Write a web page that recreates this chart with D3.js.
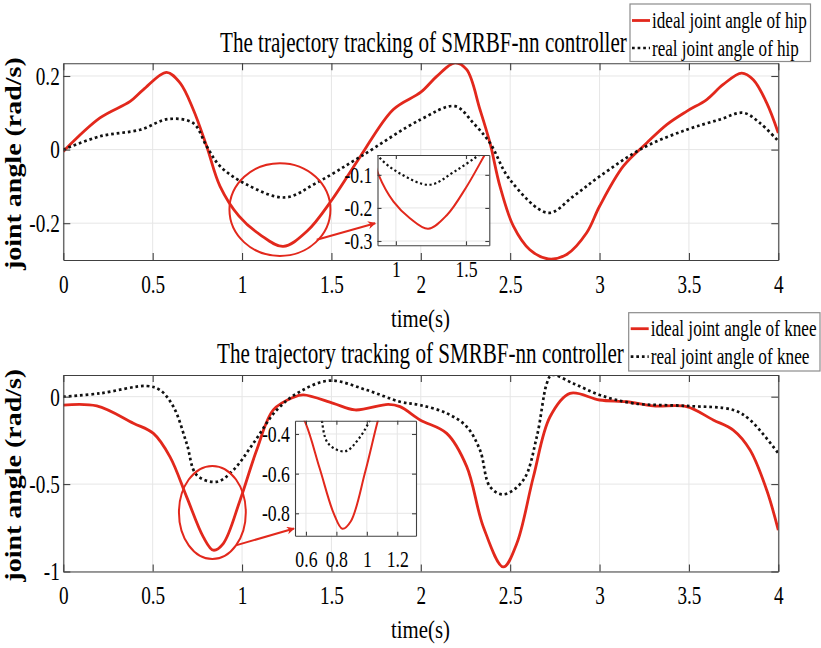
<!DOCTYPE html>
<html>
<head>
<meta charset="utf-8">
<script src="https://cdn.jsdelivr.net/npm/d3@7"></script>
<style>
  body { margin: 0; background: #fff; }
  svg { display: block; }
</style>
</head>
<body>
<script>
// ---- data ----
var xTicks = [0, 0.5, 1, 1.5, 2, 2.5, 3, 3.5, 4];

var hipTicks = [-0.2, 0, 0.2];
var hipIdealT = [0, 0.205, 0.374, 0.448, 0.578, 0.653, 0.727, 0.802, 0.877, 0.983, 1.1, 1.23, 1.363, 1.505, 1.66, 1.846, 2.0, 2.089, 2.191, 2.257, 2.331, 2.387, 2.443, 2.518, 2.61, 2.713, 2.816, 2.928, 3.0, 3.133, 3.264, 3.376, 3.487, 3.6, 3.692, 3.795, 3.86, 3.935, 4.0];
var hipIdealV = [-0.005, 0.086, 0.131, 0.163, 0.21, 0.181, 0.109, 0.009, -0.1, -0.181, -0.231, -0.263, -0.222, -0.135, -0.02, 0.109, 0.156, 0.199, 0.236, 0.217, 0.109, 0.018, -0.1, -0.208, -0.272, -0.297, -0.285, -0.226, -0.154, -0.045, 0.018, 0.068, 0.104, 0.136, 0.177, 0.208, 0.19, 0.127, 0.045];
var hipRealT = [0, 0.205, 0.43, 0.587, 0.727, 0.802, 0.877, 1.026, 1.24, 1.418, 1.66, 2.0, 2.191, 2.294, 2.387, 2.499, 2.713, 2.853, 3.0, 3.245, 3.487, 3.674, 3.804, 3.898, 4.0];
var hipRealV = [0, 0.036, 0.054, 0.083, 0.072, 0.009, -0.045, -0.095, -0.13, -0.09, -0.02, 0.082, 0.118, 0.072, 0.018, -0.082, -0.172, -0.127, -0.073, 0.005, 0.054, 0.082, 0.1, 0.072, 0.023];
var hipInsetXTicks = [1, 1.5];
var hipInsetYTicks = [-0.3, -0.2, -0.1];

var kneeTicks = [-1, -0.5, 0];
var kneeIdealT = [0, 0.187, 0.392, 0.504, 0.597, 0.69, 0.783, 0.839, 0.895, 0.989, 1.082, 1.175, 1.287, 1.343, 1.511, 1.632, 1.818, 1.884, 1.996, 2.145, 2.257, 2.35, 2.462, 2.537, 2.63, 2.723, 2.835, 3.0, 3.152, 3.301, 3.487, 3.636, 3.748, 3.842, 3.935, 4.0];
var kneeIdealV = [-0.048, -0.053, -0.152, -0.21, -0.344, -0.573, -0.802, -0.878, -0.84, -0.592, -0.305, -0.076, -0.004, 0.01, -0.038, -0.076, -0.044, -0.057, -0.133, -0.21, -0.4, -0.745, -0.974, -0.84, -0.458, -0.115, 0.019, -0.019, -0.029, -0.053, -0.057, -0.133, -0.191, -0.305, -0.534, -0.763];
var kneeRealT = [0, 0.205, 0.467, 0.541, 0.616, 0.69, 0.746, 0.858, 0.951, 1.063, 1.194, 1.324, 1.492, 1.697, 1.884, 1.996, 2.145, 2.257, 2.331, 2.387, 2.462, 2.574, 2.649, 2.705, 2.732, 2.853, 3.0, 3.189, 3.487, 3.748, 3.842, 4.0];
var kneeRealV = [0, 0.019, 0.061, 0.038, -0.057, -0.267, -0.448, -0.487, -0.42, -0.267, -0.076, 0.029, 0.092, 0.038, -0.029, -0.048, -0.095, -0.172, -0.305, -0.515, -0.559, -0.477, -0.229, 0.076, 0.124, 0.076, 0.01, -0.038, -0.053, -0.076, -0.133, -0.324];
var kneeInsetXTicks = [0.6, 0.8, 1, 1.2];
var kneeInsetYTicks = [-0.8, -0.6, -0.4];

var titleText = "The trajectory tracking of SMRBF-nn controller";

// ---- page ----
var width = 821, height = 648;
var red = "#e2281c";
var serif = "'Liberation Serif','Times New Roman',serif";

var svg = d3.select("body").append("svg")
    .attr("width", width)
    .attr("height", height);

var defs = svg.append("defs");
defs.append("marker")
    .attr("id", "arrow")
    .attr("viewBox", "0 0 10 10")
    .attr("refX", 9).attr("refY", 5)
    .attr("markerWidth", 10).attr("markerHeight", 8)
    .attr("markerUnits", "userSpaceOnUse")
    .attr("orient", "auto")
  .append("path")
    .attr("d", "M0,0L10,5L0,10L3,5z")
    .attr("fill", red);

var x = d3.scaleLinear().domain([0, 4]).range([63.3, 778.3]);

// the figure's text is squeezed sideways; do the same with a transform
function squeeze(sel, k) {
  sel.each(function() {
    var t = d3.select(this);
    var tx = +t.attr("x") || 0, ty = +t.attr("y") || 0;
    var t0 = t.attr("transform") || "";
    t.attr("x", 0).attr("y", 0)
     .attr("transform", `${t0} translate(${tx},${ty}) scale(${k},1)`);
  });
}
function fit(sel, w) {
  sel.each(function() {
    var k = w / this.getComputedTextLength();
    d3.select(this).call(squeeze, k);
  });
}
function pts(t, v) { return t.map((d, i) => [d, v[i]]); }
var fmt = d => String(d);
var clipN = 0;

function styleAxis(g, size) {
  g.attr("font-family", serif).attr("font-size", size).attr("color", "#3c3c3c");
  g.selectAll("path, line").attr("stroke", "#404040").attr("stroke-width", 1.1);
  g.selectAll("text").attr("fill", "#000");
}

// one axes box with grid, two curves and inward ticks
function axesBox(g, xs, ys, xt, yt, ideal, real, o) {
  var x0 = xs.range()[0], x1 = xs.range()[1];
  var y0 = ys.range()[0], y1 = ys.range()[1];

  g.append("rect")
      .attr("x", x0).attr("y", y1)
      .attr("width", x1 - x0).attr("height", y0 - y1)
      .attr("fill", "#fff");

  g.append("g").selectAll("line").data(xt).join("line")
      .attr("x1", d => xs(d)).attr("x2", d => xs(d))
      .attr("y1", y1).attr("y2", y0)
      .attr("stroke", "#e6e6e6").attr("stroke-width", 1);
  g.append("g").selectAll("line").data(yt).join("line")
      .attr("x1", x0).attr("x2", x1)
      .attr("y1", d => ys(d)).attr("y2", d => ys(d))
      .attr("stroke", "#e6e6e6").attr("stroke-width", 1);

  var id = "clip" + (clipN++);
  defs.append("clipPath").attr("id", id).append("rect")
      .attr("x", x0).attr("y", y1)
      .attr("width", x1 - x0).attr("height", y0 - y1);

  var line = d3.line()
      .x(d => xs(d[0]))
      .y(d => ys(d[1]))
      .curve(d3.curveCatmullRom.alpha(0.5));

  g.append("path")
      .datum(ideal)
      .attr("clip-path", "url(#" + id + ")")
      .attr("fill", "none")
      .attr("stroke", red)
      .attr("stroke-width", o.redW)
      .attr("d", line);
  g.append("path")
      .datum(real)
      .attr("clip-path", "url(#" + id + ")")
      .attr("fill", "none")
      .attr("stroke", "#111")
      .attr("stroke-width", o.dotW)
      .attr("stroke-dasharray", o.dash)
      .attr("d", line);

  var tk = o.tick;
  var ax = g.append("g").attr("transform", `translate(0,${y0})`)
      .call(d3.axisBottom(xs).tickValues(xt).tickSize(-tk).tickSizeOuter(0)
        .tickPadding(o.xPad).tickFormat(fmt));
  styleAxis(ax, o.font);
  ax.selectAll(".tick text").call(squeeze, 0.74);

  var ay = g.append("g").attr("transform", `translate(${x0},0)`)
      .call(d3.axisLeft(ys).tickValues(yt).tickSize(-tk).tickSizeOuter(0)
        .tickPadding(o.yPad).tickFormat(fmt));
  styleAxis(ay, o.font);
  ay.selectAll(".tick text").call(squeeze, 0.74);

  var at = g.append("g").attr("transform", `translate(0,${y1})`)
      .call(d3.axisTop(xs).tickValues(xt).tickSize(-tk).tickSizeOuter(0).tickFormat(""));
  styleAxis(at, o.font);
  var ar = g.append("g").attr("transform", `translate(${x1},0)`)
      .call(d3.axisRight(ys).tickValues(yt).tickSize(-tk).tickSizeOuter(0).tickFormat(""));
  styleAxis(ar, o.font);
}

function panel(p) {
  var y = d3.scaleLinear().domain(p.yDomain).range([p.bottom, p.top]);
  var g = svg.append("g");

  axesBox(g, x, y, xTicks, p.yTicks, pts(p.idealT, p.idealV), pts(p.realT, p.realV),
    { redW: 2.8, dotW: 2.7, dash: "2.7,2.9", tick: 7, font: 26, xPad: 14.5, yPad: 3.5 });

  // zoom ellipse and arrow, in data units
  g.append("ellipse")
      .attr("cx", x(p.zoom[0])).attr("cy", y(p.zoom[1]))
      .attr("rx", x(p.zoom[2]) - x(0)).attr("ry", y(0) - y(p.zoom[3]))
      .attr("fill", "none").attr("stroke", red).attr("stroke-width", 2);
  g.append("line")
      .attr("x1", x(p.arrow[0])).attr("y1", y(p.arrow[1]))
      .attr("x2", x(p.arrow[2])).attr("y2", y(p.arrow[3]))
      .attr("stroke", red).attr("stroke-width", 2)
      .attr("marker-end", "url(#arrow)");

  // inset
  var ix = d3.scaleLinear().domain(p.inset.xDomain).range(p.inset.xRange);
  var iy = d3.scaleLinear().domain(p.inset.yDomain).range(p.inset.yRange);
  var gi = svg.append("g");
  axesBox(gi, ix, iy, p.inset.xTicks, p.inset.yTicks, pts(p.idealT, p.idealV), pts(p.realT, p.realV),
    { redW: 2, dotW: 2.2, dash: "2.2,2.6", tick: 4, font: 24, xPad: 14.5, yPad: 5 });

  // title
  svg.append("text")
      .attr("x", p.titleX).attr("y", p.titleY)
      .attr("font-family", serif).attr("font-size", 29)
      .text(titleText)
      .call(fit, 407);

  // x label
  svg.append("text")
      .attr("x", 391).attr("y", p.xLabelY)
      .attr("font-family", serif).attr("font-size", 26)
      .text("time(s)")
      .call(fit, 59);

  // y label
  svg.append("text")
      .attr("transform", `translate(21,${(p.top + p.bottom) / 2 + 2}) rotate(-90)`)
      .attr("text-anchor", "middle")
      .attr("font-family", serif).attr("font-size", 24).attr("font-weight", "bold")
      .text("joint angle (rad/s)")
      .call(fit, 213);

  // legend
  var L = p.legend;
  var lg = svg.append("g");
  lg.append("rect")
      .attr("x", L.x).attr("y", L.y).attr("width", L.w).attr("height", L.h)
      .attr("fill", "#fff").attr("stroke", "#8c8c8c").attr("stroke-width", 1.2);
  var rows = [
    { label: L.labels[0], color: red, dash: null, w: 2.8, tw: L.tw[0] },
    { label: L.labels[1], color: "#111", dash: "2.7,2.9", w: 2.7, tw: L.tw[1] }
  ];
  rows.forEach(function(r, i) {
    var yy = L.y + L.rowY[i];
    lg.append("line")
        .attr("x1", L.x + 2).attr("x2", L.x + 20)
        .attr("y1", yy).attr("y2", yy)
        .attr("stroke", r.color).attr("stroke-width", r.w)
        .attr("stroke-dasharray", r.dash);
    lg.append("text")
        .attr("x", L.x + 22).attr("y", yy + 7.5)
        .attr("font-family", serif).attr("font-size", 24)
        .text(r.label)
        .call(fit, r.tw);
  });
}

panel({
  top: 63.3, bottom: 260,
  yDomain: [-0.3, 0.2345], yTicks: hipTicks,
  idealT: hipIdealT, idealV: hipIdealV, realT: hipRealT, realV: hipRealV,
  zoom: [1.212, -0.163, 0.2825, 0.126],
  arrow: [1.418, -0.245, 1.745, -0.2],
  inset: { xDomain: [0.869, 1.666], xRange: [377.5, 489.3],
           yDomain: [-0.313, -0.04], yRange: [245.3, 155],
           xTicks: hipInsetXTicks, yTicks: hipInsetYTicks },
  titleX: 220, titleY: 51.7, xLabelY: 326.5,
  legend: { x: 630, y: 4, w: 180.5, h: 57.5, rowY: [16.5, 44],
            labels: ["ideal joint angle of hip", "real joint angle of hip"], tw: [155, 147] }
});

panel({
  top: 375, bottom: 571.5,
  yDomain: [-1, 0.124], yTicks: kneeTicks,
  idealT: kneeIdealT, idealV: kneeIdealV, realT: kneeRealT, realV: kneeRealV,
  zoom: [0.834, -0.662, 0.187, 0.266],
  arrow: [0.97, -0.849, 1.291, -0.754],
  inset: { xDomain: [0.528, 1.323], xRange: [295, 416],
           yDomain: [-0.913, -0.333], yRange: [535.7, 420.7],
           xTicks: kneeInsetXTicks, yTicks: kneeInsetYTicks },
  titleX: 217, titleY: 362.7, xLabelY: 638,
  legend: { x: 628.7, y: 312.7, w: 191.3, h: 58.3, rowY: [16, 44],
            labels: ["ideal joint angle of knee", "real joint angle of knee"], tw: [166, 159] }
});
</script>
</body>
</html>
